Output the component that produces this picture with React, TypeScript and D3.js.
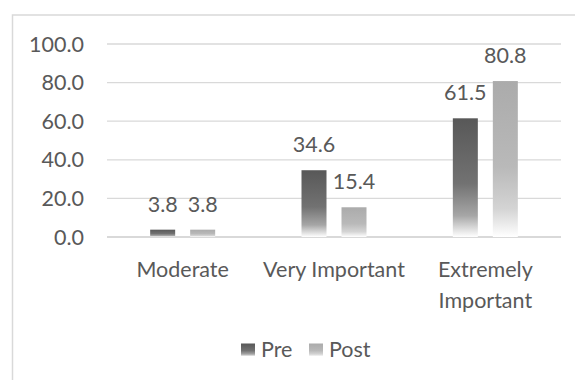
import React from "react";
import * as d3 from "d3";

const categories = ["Moderate", "Very Important", "Extremely Important"];
const seriesNames = ["Pre", "Post"];
const preValues = [3.8, 34.6, 61.5];
const postValues = [3.8, 15.4, 80.8];
const yTicks = [0, 20, 40, 60, 80, 100];

const W = 575;
const H = 380;
const FONT = "Lato, 'Noto Sans', sans-serif";
const TEXT = "#595959";

export default function App() {
  const x0 = d3.scaleBand<string>().domain(categories).range([107, 561]).padding(0);
  const x1 = d3
    .scaleBand<string>()
    .domain(seriesNames)
    .range([x0.bandwidth() / 2 - 32.5, x0.bandwidth() / 2 + 32.5])
    .paddingInner(0.375)
    .paddingOuter(0);
  const y = d3.scaleLinear().domain([0, 100]).range([237, 44]);
  const fmt = d3.format(".1f");

  const series = [
    { name: "Pre", values: preValues, grad: "gradPre" },
    { name: "Post", values: postValues, grad: "gradPost" },
  ];

  const wrap = (c: string) => (c === "Extremely Important" ? ["Extremely", "Important"] : [c]);

  return (
    <svg
      width={W}
      height={H}
      style={{ position: "absolute", left: 0, top: 0, background: "#fff" }}
      fontFamily={FONT}
    >
      <defs>
        <linearGradient id="gradPre" x1="0" y1="0" x2="0" y2="1">
          <stop offset="0" stopColor="#585858" />
          <stop offset="0.55" stopColor="#727272" />
          <stop offset="0.82" stopColor="#a6a6a6" />
          <stop offset="1" stopColor="#ffffff" />
        </linearGradient>
        <linearGradient id="gradPost" x1="0" y1="0" x2="0" y2="1">
          <stop offset="0" stopColor="#ababab" />
          <stop offset="0.55" stopColor="#b9b9b9" />
          <stop offset="0.82" stopColor="#d4d4d4" />
          <stop offset="1" stopColor="#ffffff" />
        </linearGradient>
      </defs>

      {/* chart frame */}
      <rect x={12.5} y={15} width={W} height={H} fill="none" stroke="#d9d9d9" strokeWidth={1.5} />

      {/* gridlines and y labels */}
      {yTicks.map((t) => (
        <g key={t}>
          <line x1={107} x2={561} y1={y(t)} y2={y(t)} stroke="#d9d9d9" strokeWidth={t === 0 ? 1.8 : 1.3} />
          <text x={84} y={y(t) + 7.5} textAnchor="end" fontSize={21.5} fill={TEXT}>
            {fmt(t)}
          </text>
        </g>
      ))}

      {/* bars and value labels */}
      {categories.map((c, i) => (
        <g key={c} transform={`translate(${x0(c)},0)`}>
          {series.map((s) => {
            const v = s.values[i];
            const bx = x1(s.name)!;
            return (
              <g key={s.name}>
                <rect x={bx} y={y(v)} width={x1.bandwidth()} height={y(0) - y(v)} fill={`url(#${s.grad})`} />
                <text x={bx + x1.bandwidth() / 2} y={y(v) - 18} textAnchor="middle" fontSize={21.5} fill={TEXT}>
                  {fmt(v)}
                </text>
              </g>
            );
          })}
          {wrap(c).map((line, k) => (
            <text
              key={line}
              x={x0.bandwidth() / 2}
              y={277 + k * 31}
              textAnchor="middle"
              fontSize={21.5}
              fill={TEXT}
            >
              {line}
            </text>
          ))}
        </g>
      ))}

      {/* legend */}
      {[
        { name: "Pre", grad: "gradPre", sx: 241, tx: 261 },
        { name: "Post", grad: "gradPost", sx: 309, tx: 329 },
      ].map((l) => (
        <g key={l.name}>
          <rect x={l.sx} y={343.5} width={14} height={13} fill={`url(#${l.grad})`} />
          <text x={l.tx} y={357} fontSize={21.5} fill={TEXT}>
            {l.name}
          </text>
        </g>
      ))}
    </svg>
  );
}
